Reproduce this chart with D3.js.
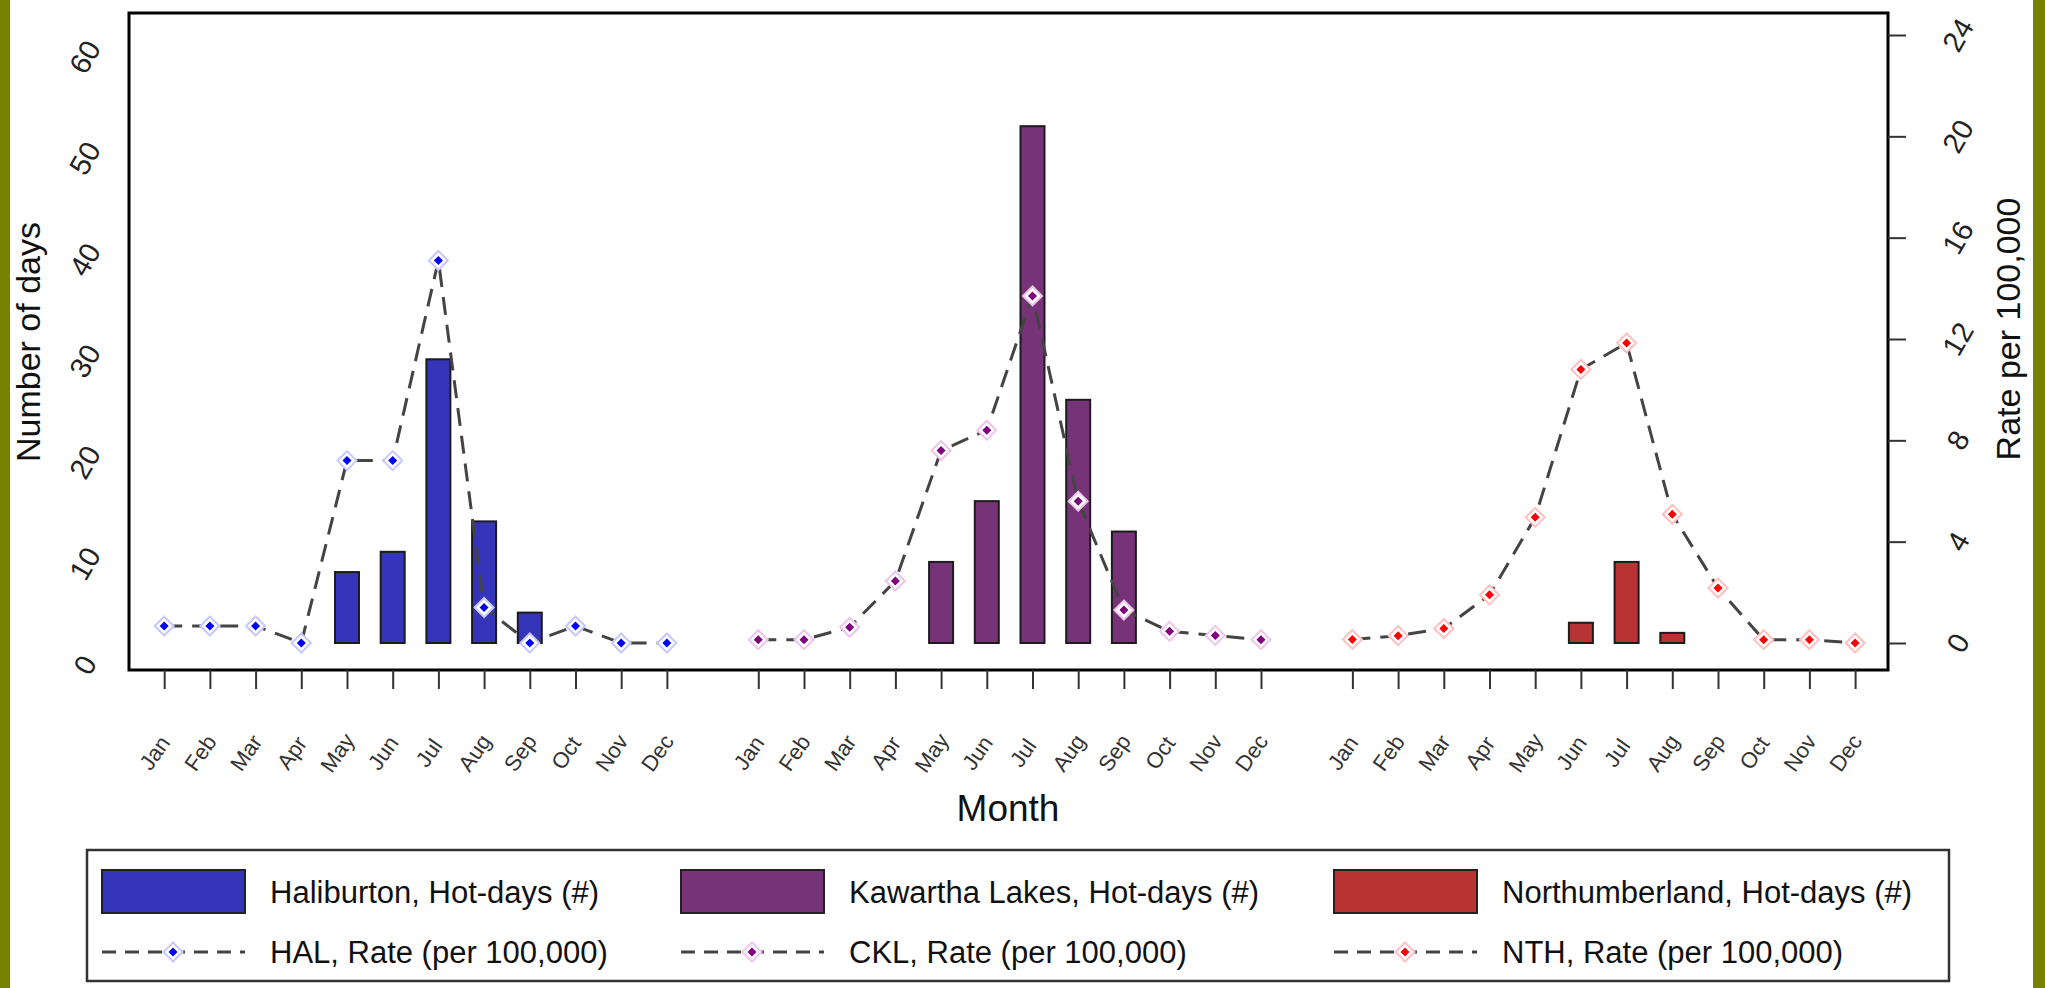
<!DOCTYPE html>
<html>
<head>
<meta charset="utf-8">
<script src="https://cdn.jsdelivr.net/npm/d3@7"></script>
<style>
  body { margin: 0; background: #fff; }
  svg { display: block; font-family: "Liberation Sans", Arial, sans-serif; }
</style>
</head>
<body>
<svg id="chart" width="2045" height="988"></svg>
<script>
// ---- data ----
var months = ["Jan", "Feb", "Mar", "Apr", "May", "Jun", "Jul", "Aug", "Sep", "Oct", "Nov", "Dec"];
var regions = ["HAL", "CKL", "NTH"];
var regionNames = ["Haliburton", "Kawartha Lakes", "Northumberland"];

// hot days (#), left axis
var halDays = [0, 0, 0, 0, 7, 9, 28, 12, 3, 0, 0, 0];
var cklDays = [0, 0, 0, 0, 8, 14, 51, 24, 11, 0, 0, 0];
var nthDays = [0, 0, 0, 0, 0, 2, 8, 1, 0, 0, 0, 0];

// rate per 100,000, right axis
var halRate = [0.67, 0.67, 0.67, 0, 7.2, 7.2, 15.1, 1.4, 0, 0.67, 0, 0];
var cklRate = [0.13, 0.13, 0.62, 2.45, 7.6, 8.4, 13.7, 5.6, 1.3, 0.46, 0.3, 0.13];
var nthRate = [0.14, 0.29, 0.57, 1.9, 4.96, 10.8, 11.84, 5.08, 2.17, 0.13, 0.13, 0];

var dayTicks = [0, 10, 20, 30, 40, 50, 60];
var rateTicks = [0, 4, 8, 12, 16, 20, 24];

var barColors = ["#3535b9", "#773377", "#b83333"];
var dotColors = ["#0000ff", "#800080", "#ff0000"];
var haloColors = ["#c8c8ff", "#eec4ee", "#ffc0c0"];

var daysByRegion = [halDays, cklDays, nthDays];
var rateByRegion = [halRate, cklRate, nthRate];

// ---- layout ----
var svg = d3.select("#chart");
var plotL = 129, plotR = 1888, plotT = 13, plotB = 670;

var x = d3.scaleLinear().domain([-0.77, 37.72]).range([plotL, plotR]);
var yDays = d3.scaleLinear().domain([0, 60]).range([643, 35]);
var yRate = d3.scaleLinear().domain([0, 24]).range([643, 35]);

function idx(g, m) { return g * 13 + m; }

// olive side strips
svg.append("rect").attr("x", 0).attr("y", 0).attr("width", 10).attr("height", 988).attr("fill", "#768200");
svg.append("rect").attr("x", 2033).attr("y", 0).attr("width", 12).attr("height", 988).attr("fill", "#768200");

// bars
regions.forEach(function (r, g) {
    svg.append("g").selectAll("rect")
        .data(daysByRegion[g].map(function (v, m) { return {v: v, m: m}; }).filter(function (d) { return d.v > 0; }))
        .enter().append("rect")
        .attr("x", function (d) { return x(idx(g, d.m)) - 12; })
        .attr("width", 24)
        .attr("y", function (d) { return yDays(d.v); })
        .attr("height", function (d) { return yDays(0) - yDays(d.v); })
        .attr("fill", barColors[g])
        .attr("stroke", "#1c1c1c")
        .attr("stroke-width", 2);
});

function diamond(s) {
    return "M0," + (-s) + "L" + s + ",0L0," + s + "L" + (-s) + ",0Z";
}

// rate lines + markers
var line = d3.line()
    .x(function (d) { return x(d.i); })
    .y(function (d) { return yRate(d.v); });

regions.forEach(function (r, g) {
    var pts = rateByRegion[g].map(function (v, m) { return {i: idx(g, m), v: v}; });
    svg.append("path")
        .datum(pts)
        .attr("d", line)
        .attr("fill", "none")
        .attr("stroke", "#444")
        .attr("stroke-width", 3)
        .attr("stroke-dasharray", "18,10");
    var mk = svg.append("g").selectAll("g")
        .data(pts).enter().append("g")
        .attr("transform", function (d) { return "translate(" + x(d.i) + "," + yRate(d.v) + ")"; });
    mk.append("path").attr("d", diamond(9.5))
        .attr("fill", "#fff").attr("stroke", haloColors[g]).attr("stroke-width", 2);
    mk.append("path").attr("d", diamond(4.5)).attr("fill", dotColors[g]);
});

// frame
svg.append("rect")
    .attr("x", plotL).attr("y", plotT)
    .attr("width", plotR - plotL).attr("height", plotB - plotT)
    .attr("fill", "none").attr("stroke", "#000").attr("stroke-width", 3);

// bottom ticks and month labels
var xTicks = [];
regions.forEach(function (r, g) {
    months.forEach(function (m, k) { xTicks.push({i: idx(g, k), label: m}); });
});
var xAxis = d3.axisBottom(x)
    .tickValues(xTicks.map(function (d) { return d.i; }))
    .tickSize(19)
    .tickFormat("");
var gx = svg.append("g").attr("transform", "translate(0," + plotB + ")").call(xAxis);
gx.select(".domain").remove();
gx.selectAll(".tick line").attr("stroke", "#333").attr("stroke-width", 2);

svg.append("g").selectAll("text")
    .data(xTicks).enter().append("text")
    .attr("transform", function (d) { return "translate(" + (x(d.i) - 8) + ",754) rotate(-55)"; })
    .attr("text-anchor", "middle")
    .attr("dominant-baseline", "middle")
    .attr("font-size", 22)
    .attr("fill", "#333")
    .text(function (d) { return d.label; });

// left axis (no tick marks)
var gl = svg.append("g").attr("transform", "translate(" + plotL + ",0)")
    .call(d3.axisLeft(yDays).tickValues(dayTicks).tickSize(0).tickFormat(d3.format("d")));
gl.select(".domain").remove();
gl.selectAll(".tick text")
    .attr("x", 0).attr("y", 0)
    .attr("transform", "translate(-50,18) rotate(-60)")
    .attr("text-anchor", "middle")
    .attr("dominant-baseline", "middle")
    .attr("font-size", 29)
    .attr("fill", "#222");

// right axis
var gr = svg.append("g").attr("transform", "translate(" + plotR + ",0)")
    .call(d3.axisRight(yRate).tickValues(rateTicks).tickSize(18).tickFormat(d3.format("d")));
gr.select(".domain").remove();
gr.selectAll(".tick line").attr("stroke", "#333").attr("stroke-width", 2);
gr.selectAll(".tick text")
    .attr("x", 0).attr("y", 0)
    .attr("transform", "translate(64,-4) rotate(-60)")
    .attr("text-anchor", "middle")
    .attr("dominant-baseline", "middle")
    .attr("font-size", 29)
    .attr("fill", "#222");

// axis titles
svg.append("text")
    .attr("transform", "translate(40,342) rotate(-90)")
    .attr("text-anchor", "middle")
    .attr("font-size", 34)
    .attr("fill", "#111")
    .text("Number of days");
svg.append("text")
    .attr("transform", "translate(2020,329) rotate(-90)")
    .attr("text-anchor", "middle")
    .attr("font-size", 34)
    .attr("fill", "#111")
    .text("Rate per 100,000");
svg.append("text")
    .attr("x", 1008).attr("y", 821)
    .attr("text-anchor", "middle")
    .attr("font-size", 37)
    .attr("fill", "#111")
    .text("Month");

// legend
var lg = svg.append("g");
lg.append("rect")
    .attr("x", 87).attr("y", 850).attr("width", 1862).attr("height", 131)
    .attr("fill", "#fff").attr("stroke", "#333").attr("stroke-width", 2.5);

var colX = [102, 681, 1334];
regions.forEach(function (r, g) {
    var cx = colX[g];
    lg.append("rect")
        .attr("x", cx).attr("y", 870).attr("width", 143).attr("height", 43)
        .attr("fill", barColors[g]).attr("stroke", "#222").attr("stroke-width", 2);
    lg.append("text")
        .attr("x", cx + 168).attr("y", 903)
        .attr("font-size", 31).attr("fill", "#111")
        .text(regionNames[g] + ", Hot-days (#)");
    lg.append("line")
        .attr("x1", cx).attr("x2", cx + 143).attr("y1", 952).attr("y2", 952)
        .attr("stroke", "#444").attr("stroke-width", 3)
        .attr("stroke-dasharray", "14,9");
    var m = lg.append("g").attr("transform", "translate(" + (cx + 71) + ",952)");
    m.append("path").attr("d", diamond(9.5)).attr("fill", "#fff").attr("stroke", haloColors[g]).attr("stroke-width", 2);
    m.append("path").attr("d", diamond(4.5)).attr("fill", dotColors[g]);
    lg.append("text")
        .attr("x", cx + 168).attr("y", 963)
        .attr("font-size", 31).attr("fill", "#111")
        .text(r + ", Rate (per 100,000)");
});
</script>
</body>
</html>
